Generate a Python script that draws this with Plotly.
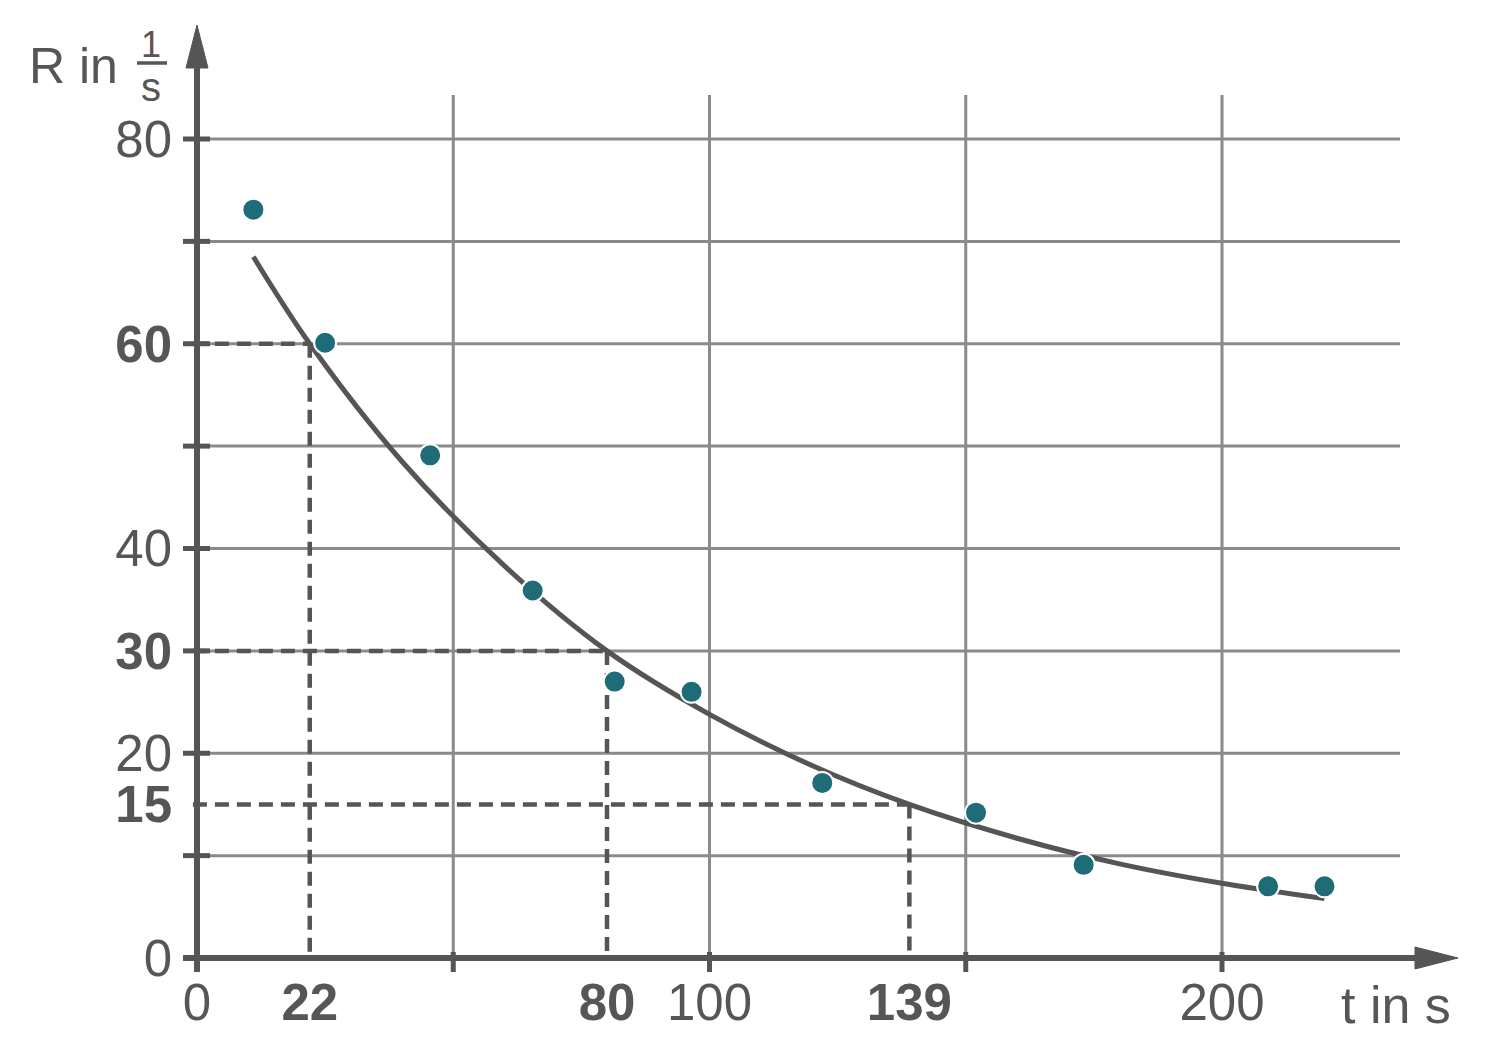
import plotly.graph_objects as go

# ---- data ----
meas_t = [11, 25, 45.5, 65.5, 81.5, 96.5, 122, 152, 173, 209, 220]
meas_R = [73.1, 60.1, 49.1, 35.9, 27.0, 26.0, 17.1, 14.2, 9.1, 7.0, 7.0]

curve_t = [11, 22, 40, 60, 80, 100, 120, 139, 160, 180, 200, 220]
curve_R = [68.5, 60, 48.5, 38.3, 30, 23.8, 18.8, 15, 11.7, 9.2, 7.3, 5.8]

# read-off helper lines (t, R)
guide_t = [22, 80, 139]
guide_R = [60, 30, 15]

x_tickvals = [0, 22, 80, 100, 139, 200]
x_ticktext = ["0", "<b>22</b>", "<b>80</b>", "100", "<b>139</b>", "200"]
y_tickvals = [0, 15, 20, 30, 40, 60, 80]
y_ticktext = ["0", "<b>15</b>", "20", "<b>30</b>", "40", "<b>60</b>", "80"]

x_grid = [50, 100, 150, 200]
y_grid = [10, 20, 30, 40, 50, 60, 70, 80]

# ---- style ----
W, H = 1493, 1054
X0_PX, Y0_PX = 197, 958
SX, SY = 5.125, 10.2375
AX = "#555555"
GRID = "#8a8a8a"
TXT = "#565656"
DOT = "#1e6c77"
REG = "Liberation Sans, Arial, sans-serif"

x_rng = [-X0_PX / SX, (W - X0_PX) / SX]
y_rng = [-(H - Y0_PX) / SY, Y0_PX / SY]
x_grid_end = (1400 - X0_PX) / SX
y_grid_end = (Y0_PX - 95) / SY

fig = go.Figure()

shapes = []
# grid
for g in y_grid:
    shapes.append(dict(type="line", x0=0, x1=x_grid_end, y0=g, y1=g,
                       line=dict(color=GRID, width=3), layer="below"))
for g in x_grid:
    shapes.append(dict(type="line", x0=g, x1=g, y0=0, y1=y_grid_end,
                       line=dict(color=GRID, width=3), layer="below"))
# dashed guides
for gt, gr in zip(guide_t, guide_R):
    shapes.append(dict(type="line", x0=-0.8, x1=gt, y0=gr, y1=gr,
                       line=dict(color=AX, width=4.5, dash="14px,8px"), layer="below"))
    shapes.append(dict(type="line", x0=gt, x1=gt, y0=gr, y1=0,
                       line=dict(color=AX, width=4.5, dash="14px,8px"), layer="below"))
# tick marks
for g in y_grid:
    shapes.append(dict(type="line", x0=-14 / SX, x1=13 / SX, y0=g, y1=g,
                       line=dict(color=AX, width=5)))
for g in x_grid:
    shapes.append(dict(type="line", x0=g, x1=g, y0=6 / SY, y1=-14 / SY,
                       line=dict(color=AX, width=5)))
# axes
shapes.append(dict(type="line", x0=-14 / SX, x1=238, y0=0, y1=0, line=dict(color=AX, width=6)))
shapes.append(dict(type="line", x0=0, x1=0, y0=-14 / SY, y1=87, line=dict(color=AX, width=6)))
# arrow heads
ay_tip, ay_base, ahw = (Y0_PX - 25) / SY, (Y0_PX - 68) / SY, 11 / SX
shapes.append(dict(type="path",
                   path=f"M {-ahw} {ay_base} L 0 {ay_tip} L {ahw} {ay_base} Z",
                   fillcolor=AX, line=dict(color=AX, width=1)))
ax_tip, ax_base, ahh = (1458 - X0_PX) / SX, (1415 - X0_PX) / SX, 11 / SY
shapes.append(dict(type="path",
                   path=f"M {ax_base} {-ahh} L {ax_tip} 0 L {ax_base} {ahh} Z",
                   fillcolor=AX, line=dict(color=AX, width=1)))
# fraction bar
shapes.append(dict(type="line", xref="paper", yref="paper",
                   x0=137 / W, x1=167 / W, y0=1 - 63 / H, y1=1 - 63 / H,
                   line=dict(color=TXT, width=3.5)))

fig.add_trace(go.Scatter(x=curve_t, y=curve_R, mode="lines",
                         line=dict(color=AX, width=5, shape="spline", smoothing=1.0),
                         hoverinfo="skip", showlegend=False))
fig.add_trace(go.Scatter(x=meas_t, y=meas_R, mode="markers",
                         marker=dict(color=DOT, size=22, line=dict(color="white", width=2)),
                         showlegend=False))

annotations = [
    dict(text="R in", xref="paper", yref="paper", x=73 / W, y=1 - 66 / H,
         showarrow=False, font=dict(family=REG, size=50, color=TXT),
         xanchor="center", yanchor="middle"),
    dict(text="1", xref="paper", yref="paper", x=151 / W, y=1 - 44 / H,
         showarrow=False, font=dict(family=REG, size=36, color=TXT),
         xanchor="center", yanchor="middle"),
    dict(text="s", xref="paper", yref="paper", x=151 / W, y=1 - 87 / H,
         showarrow=False, font=dict(family=REG, size=40, color=TXT),
         xanchor="center", yanchor="middle"),
    dict(text="t in s", xref="paper", yref="paper", x=1396 / W, y=1 - 1005 / H,
         showarrow=False, font=dict(family=REG, size=52, color=TXT),
         xanchor="center", yanchor="middle"),
]

fig.update_layout(
    width=W, height=H, autosize=False,
    margin=dict(l=0, r=0, t=0, b=0),
    paper_bgcolor="white", plot_bgcolor="white",
    shapes=shapes, annotations=annotations, showlegend=False,
    xaxis=dict(range=x_rng, showgrid=False, zeroline=False, showline=False,
               tickmode="array", tickvals=x_tickvals, ticktext=x_ticktext,
               ticks="", ticklabelstandoff=10,
               tickfont=dict(family=REG, size=51, color=TXT),
               anchor="free", position=(H - Y0_PX) / H, fixedrange=True),
    yaxis=dict(range=y_rng, showgrid=False, zeroline=False, showline=False,
               tickmode="array", tickvals=y_tickvals, ticktext=y_ticktext,
               ticks="", ticklabelstandoff=25,
               tickfont=dict(family=REG, size=51, color=TXT),
               anchor="free", position=X0_PX / W, fixedrange=True),
)

fig.write_html("out.html")
